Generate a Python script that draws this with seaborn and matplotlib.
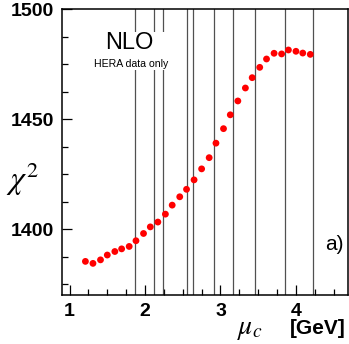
import numpy as np
import pandas as pd
import matplotlib
matplotlib.use('Agg')
import matplotlib.pyplot as plt
from matplotlib.patches import Rectangle
from matplotlib.ticker import MultipleLocator
import seaborn as sns

# chi2 scan vs charm mass scale
mu_c = [1.21, 1.31, 1.41, 1.50, 1.60, 1.69, 1.79, 1.88, 1.98, 2.07, 2.17,
        2.27, 2.36, 2.46, 2.55, 2.65, 2.75, 2.85, 2.94, 3.04, 3.13, 3.23,
        3.33, 3.42, 3.52, 3.61, 3.71, 3.81, 3.90, 4.00, 4.09, 4.19]
chi2 = [1385.3, 1384.4, 1386.0, 1388.2, 1389.8, 1391.0, 1392.1, 1394.7,
        1398.0, 1401.0, 1403.2, 1406.8, 1410.9, 1414.7, 1418.1, 1422.4,
        1427.4, 1432.5, 1439.1, 1445.7, 1452.0, 1458.3, 1464.2, 1468.9,
        1473.6, 1477.4, 1480.0, 1479.7, 1481.5, 1480.9, 1480.1, 1479.5]
# vertical reference lines
vlines = [1.87, 2.12, 2.24, 2.55, 2.64, 2.91, 3.16, 3.46, 3.86, 4.23]

df = pd.DataFrame({'mu_c': mu_c, 'chi2': chi2})

sns.set_style('ticks')
plt.rcParams['font.family'] = ['Liberation Sans', 'DejaVu Sans']
plt.rcParams['mathtext.fontset'] = 'stix'
plt.rcParams.update({'text.color': 'black', 'xtick.color': 'black',
                     'ytick.color': 'black', 'axes.edgecolor': 'black',
                     'axes.labelcolor': 'black'})

fig = plt.figure(figsize=(3.49, 3.44), dpi=100)
ax = fig.add_axes([0.1777, 0.1424, 0.8195, 0.8305])

for v in vlines:
    ax.axvline(v, color='#505050', lw=0.9, zorder=1)

# white box behind the labels
ax.add_patch(Rectangle((1.30, 1472.4), 1.06, 17.3, facecolor='white',
                       edgecolor='none', zorder=2))
ax.text(1.79, 1484.5, 'NLO', fontsize=17, ha='center', va='center', zorder=3)
ax.text(1.82, 1475.0, 'HERA data only', fontsize=7.6, ha='center',
        va='center', zorder=3)

sns.scatterplot(data=df, x='mu_c', y='chi2', ax=ax, color='red', s=24,
                edgecolor='none', zorder=4, legend=False)

ax.set_xlim(0.9, 4.69)
ax.set_ylim(1370, 1500)
ax.xaxis.set_major_locator(MultipleLocator(1))
ax.xaxis.set_minor_locator(MultipleLocator(0.25))
ax.yaxis.set_major_locator(MultipleLocator(50))
ax.yaxis.set_minor_locator(MultipleLocator(12.5))
ax.tick_params(which='both', direction='in', width=0.9, color='black')
ax.tick_params(which='major', length=7.5, pad=6, labelsize=14)
ax.tick_params(which='minor', length=4)
for lab in ax.get_xticklabels() + ax.get_yticklabels():
    lab.set_fontweight('bold')
for sp in ax.spines.values():
    sp.set_linewidth(1.1)

ax.set_xlabel('')
ax.set_ylabel('')
fig.text(0.065, 0.48, r'$\chi^2$', fontsize=23, ha='center', va='center')
fig.text(0.68, 0.03, r'$\mu_c$', fontsize=20, ha='left', va='baseline')
fig.text(0.99, 0.03, '[GeV]', fontsize=15, fontweight='bold', ha='right',
         va='baseline')
ax.text(4.63, 1393, 'a)', fontsize=15, ha='right', va='center')

fig.savefig('out.png', dpi=100)
